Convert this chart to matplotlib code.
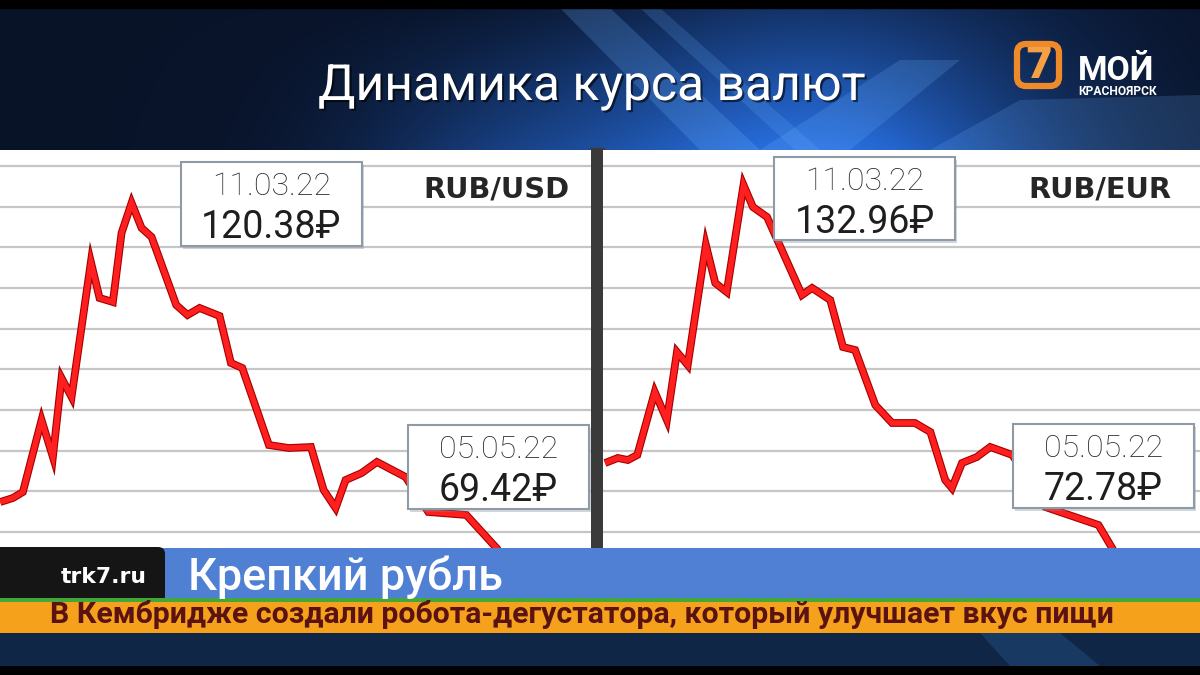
import numpy as np
import matplotlib
matplotlib.use("Agg")
import matplotlib.pyplot as plt
from matplotlib.patches import Rectangle, FancyBboxPatch, Polygon
import matplotlib.patheffects as pe

# ---------------- data: days after 11.03.22, exchange rate in RUB ----------------
usd_days = [-19.7, -17.8, -16.3, -13.5, -11.8, -10.5, -9.0, -6.1, -4.8, -2.8, -1.5, 0.0,
            1.5, 3.0, 6.7, 8.4, 10.2, 13.2, 14.9, 16.6, 20.6, 23.6, 26.9, 28.8, 30.6,
            32.1, 34.5, 36.8, 41.1, 44.5, 50.2, 55.0]
usd_rate = [76.47, 77.06, 77.94, 88.51, 83.08, 94.68, 91.89, 111.72, 106.43, 105.84, 115.97, 120.38,
            116.71, 115.39, 105.40, 103.93, 104.96, 103.79, 96.89, 96.15, 84.84, 84.40, 84.55, 78.24, 75.59,
            79.70, 80.73, 82.35, 80.14, 75.01, 74.57, 69.42]

eur_days = [-20.6, -18.7, -17.2, -15.8, -13.2, -11.4, -9.9, -8.3, -5.6, -4.2, -2.5, 0.0,
            1.4, 3.5, 8.7, 10.2, 12.9, 14.8, 16.6, 19.6, 22.1, 25.5, 27.8, 30.0, 31.0,
            32.5, 34.7, 36.7, 40.0, 44.9, 52.8, 55.0]
eur_rate = [87.12, 87.95, 87.62, 88.44, 98.83, 94.21, 105.42, 103.28, 123.07, 116.80, 115.32, 132.96,
            129.33, 127.68, 114.82, 115.98, 114.00, 106.25, 105.75, 96.69, 93.72, 93.72, 92.23, 84.32, 83.00,
            87.12, 88.11, 89.76, 88.44, 79.87, 76.90, 72.78]

usd_pair = "RUB/USD"
eur_pair = "RUB/EUR"
usd_notes = [("11.03.22", "120.38₽"), ("05.05.22", "69.42₽")]
eur_notes = [("11.03.22", "132.96₽"), ("05.05.22", "72.78₽")]

title = "Динамика курса валют"
headline = "Крепкий рубль"
site = "trk7.ru"
ticker = "В Кембридже создали робота-дегустатора, который улучшает вкус пищи"
logo_big = "МОЙ"
logo_small = "КРАСНОЯРСК"

# ---------------- figure ----------------
W, H = 1200, 675
fig = plt.figure(figsize=(12, 6.75), dpi=100)
fig.patch.set_facecolor("#0c1a33")

FONT = ["Roboto", "DejaVu Sans"]

# background layer in pixel coordinates
bg = fig.add_axes([0, 0, 1, 1], zorder=0)
bg.set_xlim(0, W); bg.set_ylim(H, 0); bg.axis("off")

u = np.linspace(0, 1, 400)[None, :]
v = np.linspace(0, 1, 80)[:, None]
base = np.array([0.035, 0.075, 0.16])
blue = np.array([0.12, 0.36, 0.72])
w = np.exp(-((u - 0.68) / 0.2) ** 2) * (0.35 + 0.65 * v) + 0.3 * np.exp(-((u - 0.42) / 0.14) ** 2) * v
img = np.clip(base[None, None, :] + blue[None, None, :] * w[..., None], 0, 1)
bg.imshow(img, extent=[0, W, 150, 8], aspect="auto", zorder=0, interpolation="bilinear")
for poly, a in [([(560, 8), (610, 8), (760, 150), (700, 150)], 0.22),
                ([(640, 8), (660, 8), (820, 150), (795, 150)], 0.18),
                ([(760, 150), (900, 60), (960, 60), (850, 150)], 0.20),
                ([(930, 150), (1020, 100), (1200, 95), (1200, 150)], 0.18)]:
    bg.add_patch(Polygon(poly, closed=True, color="#6fb4ff", alpha=a, lw=0, zorder=1))
bg.add_patch(Rectangle((0, 0), W, 8, color="black", zorder=2))
bg.add_patch(Rectangle((590, 148), 14, 402, color="#3a3a3a", zorder=2))

# ---------------- chart panels ----------------
def panel(rect, days, rate, xlim, ylim):
    ax = fig.add_axes(rect, zorder=2)
    ax.set_facecolor("white")
    ax.set_xlim(*xlim)
    ax.set_ylim(*ylim)
    fr = np.linspace(0.04, 0.96, 10)
    ax.set_yticks(ylim[0] + fr * (ylim[1] - ylim[0]))
    ax.set_xticks([])
    ax.grid(axis="y", color="#c6c6c6", lw=1.6)
    ax.tick_params(left=False, labelleft=False)
    for s in ax.spines.values():
        s.set_visible(False)
    ax.plot(days, rate, color="#ff1f1f", lw=4.0, solid_joinstyle="miter", solid_capstyle="butt",
            path_effects=[pe.Stroke(linewidth=5.6, foreground="#a30000"), pe.Normal()], zorder=3)
    return ax

ax1 = panel([0, (H - 548) / H, 591 / W, 398 / H], usd_days, usd_rate, (-19.73, 68.9), (69.72, 128.16))
ax2 = panel([603 / W, (H - 548) / H, 597 / W, 398 / H], eur_days, eur_rate, (-20.9, 67.9), (73.11, 138.73))

# ---------------- overlay ----------------
fg = fig.add_axes([0, 0, 1, 1], zorder=5)
fg.set_xlim(0, W); fg.set_ylim(H, 0); fg.axis("off")
fg.patch.set_alpha(0)

fits = []

def txt(x, y, s, target_w, **kw):
    t = fg.text(x, y, s, **kw)
    fits.append((t, target_w))
    return t

def note_box(x0, y0, x1, y1, date, val):
    fg.add_patch(Rectangle((x0 + 2, y0 + 3), x1 - x0, y1 - y0, color="#7d8a96", alpha=0.35, lw=0, zorder=6))
    fg.add_patch(Rectangle((x0, y0), x1 - x0, y1 - y0, facecolor="white", edgecolor="#8e9aa6", lw=1.5, zorder=7))
    cx = (x0 + x1) / 2
    t1 = fg.text(cx, y0 + 33, date, ha="center", va="baseline", color="#2b2b2b", fontsize=20,
                 family=FONT, fontweight="light", zorder=8)
    t2 = fg.text(cx, y0 + 76, val, ha="center", va="baseline", color="#1e1e1e", fontsize=29,
                 family=FONT, fontweight="normal", zorder=8)
    return t1, t2

d1, v1 = note_box(181, 162, 362, 246, *usd_notes[0])
d2, v2 = note_box(408, 425, 589, 509, *usd_notes[1])
d3, v3 = note_box(774, 157, 955, 240, *eur_notes[0])
d4, v4 = note_box(1013, 424, 1194, 508, *eur_notes[1])

p1 = fg.text(496, 197, usd_pair, ha="center", va="baseline", color="#262626", fontsize=20,
             family=["DejaVu Sans"], fontweight="bold", zorder=8)
p2 = fg.text(1100, 197, eur_pair, ha="center", va="baseline", color="#262626", fontsize=20,
             family=["DejaVu Sans"], fontweight="bold", zorder=8)

# title
t_title = txt(318, 100, title, 547, ha="left", va="baseline", color="white", fontsize=30, family=FONT,
              path_effects=[pe.withSimplePatchShadow(offset=(1.5, -1.5), shadow_rgbFace="#000000", alpha=0.6)])

# logo
fg.add_patch(FancyBboxPatch((1017, 44), 42, 42, boxstyle="round,pad=0,rounding_size=9",
                            facecolor="none", edgecolor="#ef8a2b", lw=4.5, zorder=6))
fg.text(1039, 66, "7", ha="center", va="center", color="#f5a043", fontsize=30, fontweight="bold",
        family=["DejaVu Sans"], zorder=7)
txt(1078, 80, logo_big, 76, ha="left", va="baseline", color="white", fontsize=22, fontweight="bold", family=FONT)
txt(1078, 95, logo_small, 79, ha="left", va="baseline", color="white", fontsize=7, fontweight="bold", family=FONT)

# bottom banners
fg.add_patch(Rectangle((0, 548), W, 51, color="#5080d4", lw=0, zorder=1))
fg.add_patch(FancyBboxPatch((-20, 547), 185, 60, boxstyle="round,pad=0,rounding_size=7",
                            color="#151515", lw=0, zorder=2))
fg.add_patch(Rectangle((0, 598), W, 5, color="#43a83a", lw=0, zorder=3))
fg.add_patch(Rectangle((0, 602), W, 31, color="#f6a11c", lw=0, zorder=3))
fg.add_patch(Rectangle((0, 633), W, 34, color="#0f2646", lw=0, zorder=3))
fg.add_patch(Polygon([(980, 633), (1060, 633), (1100, 666), (1010, 666)], color="#2b5e99", alpha=0.35, lw=0, zorder=3))
fg.add_patch(Rectangle((0, 666), W, 9, color="black", lw=0, zorder=4))

txt(61, 583, site, 86, ha="left", va="baseline", color="white", fontsize=15, fontweight="bold",
    family=["DejaVu Sans"], zorder=5)
txt(188, 590, headline, 315, ha="left", va="baseline", color="white", fontsize=28, fontweight="medium",
    family=FONT, zorder=5)
txt(50, 623, ticker, 1068, ha="left", va="baseline", color="#5a1212", fontsize=16, fontweight="bold",
    family=FONT, zorder=5)

# fit widths to reference
fig.canvas.draw()
r = fig.canvas.get_renderer()
for t, tw in fits:
    bb = t.get_window_extent(r)
    t.set_fontsize(t.get_fontsize() * tw / bb.width)

# common sizes for note boxes
bb = d2.get_window_extent(r); ds = 20 * 119 / bb.width
bb = v1.get_window_extent(r); vs = 29 * 140 / bb.width
for t in (d1, d2, d3, d4):
    t.set_fontsize(ds)
for t in (v1, v2, v3, v4):
    t.set_fontsize(vs)
bb = p1.get_window_extent(r)
for t in (p1, p2):
    t.set_fontsize(20 * 146 / bb.width)

fig.savefig("out.png", dpi=100, facecolor=fig.get_facecolor())
